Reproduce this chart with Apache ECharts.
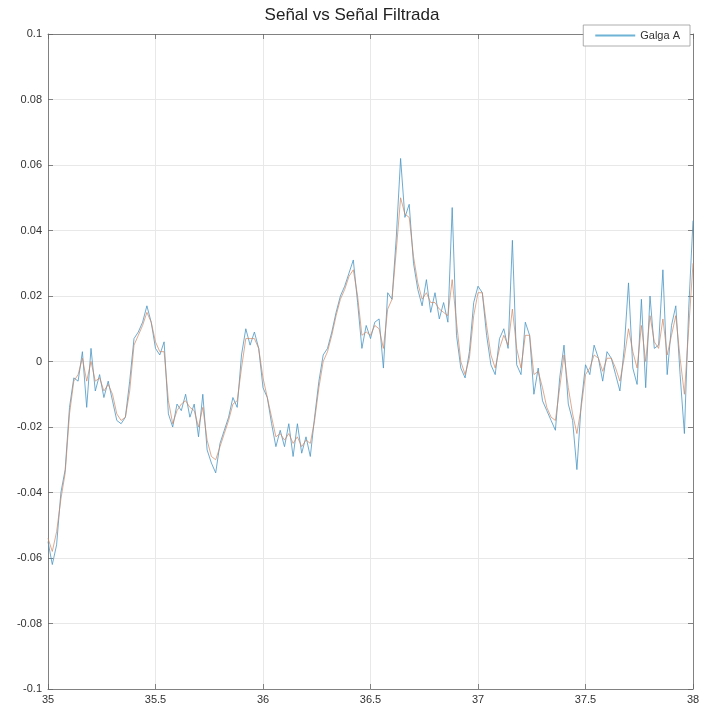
<!DOCTYPE html>
<html>
<head>
<meta charset="utf-8">
<title>Señal vs Señal Filtrada</title>
<script src="https://cdn.jsdelivr.net/npm/echarts@6/dist/echarts.min.js"></script>
<style>
  html, body { margin: 0; padding: 0; background: #fff; }
  #chart { width: 704px; height: 719px; }
</style>
</head>
<body>
<div id="chart"></div>
<script>
// tiempo (s)
const tiempo = [
  35.00, 35.02, 35.04, 35.06, 35.08, 35.10, 35.12, 35.14, 35.16, 35.18,
  35.20, 35.22, 35.24, 35.26, 35.28, 35.30, 35.32, 35.34, 35.36, 35.38,
  35.40, 35.42, 35.44, 35.46, 35.48, 35.50, 35.52, 35.54, 35.56, 35.58,
  35.60, 35.62, 35.64, 35.66, 35.68, 35.70, 35.72, 35.74, 35.76, 35.78,
  35.80, 35.82, 35.84, 35.86, 35.88, 35.90, 35.92, 35.94, 35.96, 35.98,
  36.00, 36.02, 36.04, 36.06, 36.08, 36.10, 36.12, 36.14, 36.16, 36.18,
  36.20, 36.22, 36.24, 36.26, 36.28, 36.30, 36.32, 36.34, 36.36, 36.38,
  36.40, 36.42, 36.44, 36.46, 36.48, 36.50, 36.52, 36.54, 36.56, 36.58,
  36.60, 36.62, 36.64, 36.66, 36.68, 36.70, 36.72, 36.74, 36.76, 36.78,
  36.80, 36.82, 36.84, 36.86, 36.88, 36.90, 36.92, 36.94, 36.96, 36.98,
  37.00, 37.02, 37.04, 37.06, 37.08, 37.10, 37.12, 37.14, 37.16, 37.18,
  37.20, 37.22, 37.24, 37.26, 37.28, 37.30, 37.32, 37.34, 37.36, 37.38,
  37.40, 37.42, 37.44, 37.46, 37.48, 37.50, 37.52, 37.54, 37.56, 37.58,
  37.60, 37.62, 37.64, 37.66, 37.68, 37.70, 37.72, 37.74, 37.76, 37.78,
  37.80, 37.82, 37.84, 37.86, 37.88, 37.90, 37.92, 37.94, 37.96, 37.98,
  38.00
]

// Galga A (señal original)
const galgaA = [
  -0.055, -0.062, -0.056, -0.040, -0.033, -0.014, -0.005, -0.006, 0.003, -0.014,
  0.004, -0.009, -0.004, -0.011, -0.006, -0.012, -0.018, -0.019, -0.017, -0.006,
  0.007, 0.009, 0.012, 0.017, 0.012, 0.004, 0.002, 0.006, -0.016, -0.020,
  -0.013, -0.015, -0.010, -0.017, -0.013, -0.023, -0.010, -0.027, -0.031, -0.034,
  -0.025, -0.021, -0.017, -0.011, -0.014, 0.002, 0.010, 0.005, 0.009, 0.004,
  -0.008, -0.011, -0.019, -0.026, -0.021, -0.026, -0.019, -0.029, -0.019, -0.028,
  -0.023, -0.029, -0.017, -0.006, 0.002, 0.004, 0.009, 0.015, 0.020, 0.023,
  0.027, 0.031, 0.018, 0.004, 0.011, 0.007, 0.012, 0.013, -0.002, 0.021,
  0.019, 0.038, 0.062, 0.044, 0.048, 0.030, 0.022, 0.017, 0.025, 0.015,
  0.021, 0.013, 0.018, 0.012, 0.047, 0.008, -0.002, -0.005, 0.003, 0.018,
  0.023, 0.021, 0.008, -0.001, -0.004, 0.007, 0.010, 0.004, 0.037, -0.001,
  -0.004, 0.012, 0.008, -0.010, -0.002, -0.012, -0.015, -0.018, -0.021, -0.005,
  0.005, -0.013, -0.018, -0.033, -0.013, -0.001, -0.004, 0.005, 0.001, -0.006,
  0.003, 0.001, -0.004, -0.009, 0.004, 0.024, -0.002, -0.007, 0.019, -0.008,
  0.020, 0.004, 0.005, 0.028, -0.004, 0.011, 0.017, -0.004, -0.022, 0.016,
  0.043
]

// señal filtrada
const filtrada = [
  -0.054, -0.058, -0.052, -0.042, -0.034, -0.016, -0.006, -0.004, 0.001, -0.006,
  0.000, -0.006, -0.005, -0.009, -0.007, -0.010, -0.016, -0.018, -0.017, -0.009,
  0.005, 0.008, 0.011, 0.015, 0.012, 0.006, 0.003, 0.003, -0.012, -0.019,
  -0.015, -0.013, -0.012, -0.014, -0.015, -0.020, -0.014, -0.024, -0.029, -0.030,
  -0.026, -0.022, -0.018, -0.013, -0.012, -0.002, 0.007, 0.007, 0.007, 0.004,
  -0.005, -0.011, -0.017, -0.023, -0.022, -0.024, -0.022, -0.025, -0.023, -0.026,
  -0.024, -0.025, -0.018, -0.008, 0.000, 0.003, 0.008, 0.014, 0.019, 0.022,
  0.026, 0.028, 0.020, 0.008, 0.009, 0.008, 0.011, 0.010, 0.004, 0.016,
  0.019, 0.034, 0.050, 0.045, 0.044, 0.032, 0.024, 0.019, 0.021, 0.018,
  0.018, 0.016, 0.015, 0.014, 0.025, 0.012, 0.000, -0.004, 0.001, 0.014,
  0.021, 0.021, 0.011, 0.002, -0.002, 0.004, 0.008, 0.005, 0.016, 0.004,
  -0.002, 0.008, 0.008, -0.004, -0.003, -0.008, -0.014, -0.017, -0.018, -0.008,
  0.002, -0.008, -0.016, -0.022, -0.014, -0.004, -0.002, 0.002, 0.001, -0.003,
  0.001, 0.001, -0.002, -0.006, 0.001, 0.010, 0.003, -0.002, 0.011, 0.000,
  0.014, 0.006, 0.004, 0.013, 0.002, 0.008, 0.014, 0.001, -0.010, 0.010,
  0.030
]

const yTicks = [-0.1, -0.08, -0.06, -0.04, -0.02, 0, 0.02, 0.04, 0.06, 0.08, 0.1]

const chart = echarts.init(document.getElementById('chart'))

const fmt = v => String(+v.toFixed(2))

const axisCommon = {
  axisLine: { show: true, onZero: false, lineStyle: { color: '#666', width: 0.8 } },
  axisTick: { show: true, inside: true, length: 5, lineStyle: { color: '#666', width: 0.8 } }
}

chart.setOption({
  animation: false,
  backgroundColor: '#fff',
  title: {
    text: 'Señal vs Señal Filtrada',
    left: 'center',
    top: 2,
    textStyle: { fontFamily: 'Liberation Sans, Arial', fontSize: 17, fontWeight: 'normal', color: '#222' }
  },
  legend: {
    data: [{ name: 'Galga A', icon: 'rect', itemStyle: { color: '#6fb3d6' } }],
    right: 14,
    top: 25,
    itemWidth: 40,
    itemHeight: 2,
    padding: [5, 10, 5, 12],
    borderColor: '#999',
    borderWidth: 0.8,
    borderRadius: 0,
    backgroundColor: '#fff',
    textStyle: { fontFamily: 'Liberation Sans, Arial', fontSize: 11, color: '#333' }
  },
  grid: { left: 48, right: 11, top: 34, bottom: 30 },
  xAxis: [{
    type: 'value',
    min: 35,
    max: 38,
    interval: 0.5,
    ...axisCommon,
    axisLabel: { formatter: fmt, fontFamily: 'Liberation Sans, Arial', fontSize: 11, color: '#333', margin: 5 },
    splitLine: { show: true, lineStyle: { color: '#e8e8e8', width: 1 } }
  }, {
    type: 'value',
    position: 'top',
    min: 35,
    max: 38,
    interval: 0.5,
    ...axisCommon,
    axisLabel: { show: false },
    splitLine: { show: false }
  }],
  yAxis: [{
    type: 'value',
    min: yTicks[0],
    max: yTicks[yTicks.length - 1],
    interval: 0.02,
    ...axisCommon,
    axisLabel: { formatter: fmt, fontFamily: 'Liberation Sans, Arial', fontSize: 11, color: '#333', margin: 6 },
    splitLine: { show: true, lineStyle: { color: '#e8e8e8', width: 1 } }
  }, {
    type: 'value',
    position: 'right',
    min: yTicks[0],
    max: yTicks[yTicks.length - 1],
    interval: 0.02,
    ...axisCommon,
    axisLabel: { show: false },
    splitLine: { show: false }
  }],
  series: [{
    name: 'Galga A',
    type: 'line',
    data: tiempo.map((t, i) => [t, galgaA[i]]),
    symbol: 'none',
    color: '#4a96c4',
    lineStyle: { width: 0.8, color: '#4a96c4' }
  }, {
    name: 'Filtrada',
    type: 'line',
    data: tiempo.map((t, i) => [t, filtrada[i]]),
    symbol: 'none',
    color: '#d08560',
    lineStyle: { width: 0.7, color: '#d08560' }
  }]
})
</script>
</body>
</html>
